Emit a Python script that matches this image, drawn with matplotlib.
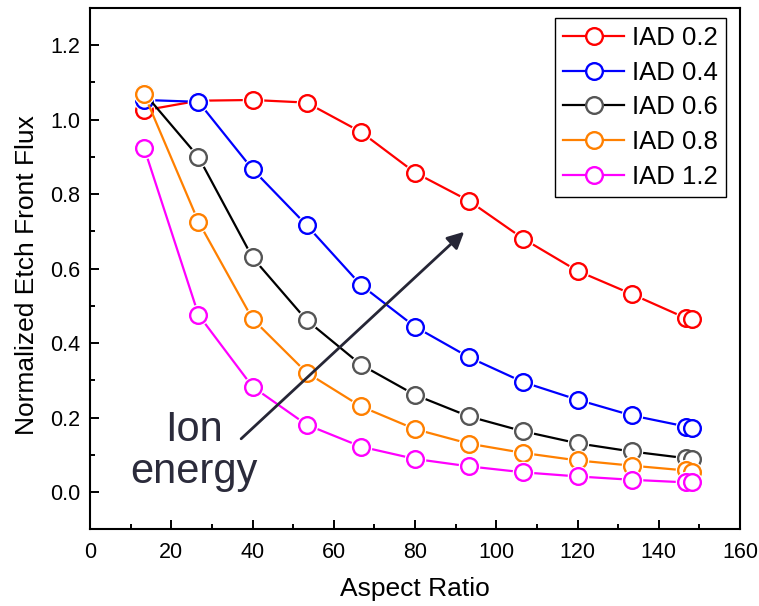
import matplotlib
matplotlib.use("Agg")
import matplotlib.pyplot as plt
from matplotlib.ticker import MultipleLocator

plt.rcParams['font.family'] = ['Liberation Sans', 'DejaVu Sans']

aspect_ratio = [13.3, 26.7, 40.0, 53.3, 66.7, 80.0, 93.3, 106.7, 120.0, 133.3, 146.7, 148.3]
iad_02 = [1.025, 1.051, 1.053, 1.046, 0.967, 0.858, 0.782, 0.680, 0.594, 0.532, 0.467, 0.465]
iad_04 = [1.053, 1.048, 0.867, 0.717, 0.556, 0.444, 0.362, 0.295, 0.248, 0.206, 0.176, 0.173]
iad_06 = [1.072, 0.900, 0.630, 0.462, 0.342, 0.261, 0.203, 0.163, 0.131, 0.109, 0.091, 0.090]
iad_08 = [1.069, 0.726, 0.465, 0.321, 0.230, 0.169, 0.130, 0.105, 0.085, 0.071, 0.058, 0.055]
iad_12 = [0.925, 0.476, 0.283, 0.181, 0.122, 0.089, 0.069, 0.053, 0.042, 0.033, 0.026, 0.026]

labels = ["IAD 0.2", "IAD 0.4", "IAD 0.6", "IAD 0.8", "IAD 1.2"]
series = [iad_02, iad_04, iad_06, iad_08, iad_12]
line_colors = ["#ff0000", "#0000ff", "#000000", "#ff8000", "#ff00ff"]
marker_colors = ["#ff0000", "#0000ff", "#555555", "#ff8000", "#ff00ff"]

fig = plt.figure(figsize=(7.59, 6.06), dpi=100)
ax = fig.add_axes([90/759, 1-529.3/606, 650/759, 521.3/606])

handles = []
for i, (vals, lab, lc, mc) in enumerate(zip(series, labels, line_colors, marker_colors)):
    z = 2 + i * 3
    ax.plot(aspect_ratio, vals, color=lc, lw=1.6, zorder=z)
    ax.plot(aspect_ratio, vals, ls='none', marker='o', ms=15.5, mfc='white', mec='white', mew=0, zorder=z + 1)
    ax.plot(aspect_ratio, vals, ls='none', marker='o', ms=12, mfc='white', mec=mc, mew=1.7, zorder=z + 2)
    h, = ax.plot([], [], color=lc, lw=1.6, marker='o', ms=12, mfc='white', mec=mc, mew=1.7)
    handles.append(h)

ax.set_xlim(0, 160)
ax.set_ylim(-0.1, 1.3)
ax.xaxis.set_major_locator(MultipleLocator(20))
ax.xaxis.set_minor_locator(MultipleLocator(10))
ax.yaxis.set_major_locator(MultipleLocator(0.2))
ax.yaxis.set_minor_locator(MultipleLocator(0.1))
ax.yaxis.set_major_formatter(matplotlib.ticker.FormatStrFormatter('%.1f'))
ax.tick_params(which='major', direction='in', length=6.5, width=1.4, labelsize=15.5)
ax.tick_params(which='minor', direction='in', length=3.6, width=1.4)
ax.tick_params(axis='x', which='both', pad=9)
ax.tick_params(axis='y', which='both', pad=7)
for s in ax.spines.values():
    s.set_linewidth(1.5)

ax.set_xlabel("Aspect Ratio", fontsize=19)
ax.set_ylabel("Normalized Etch Front Flux", fontsize=19)
ax.xaxis.set_label_coords(0.5, -0.092)
ax.yaxis.set_label_coords(-0.079, 0.487)

leg = ax.legend(handles, labels, loc='upper right', bbox_to_anchor=(725.7/759, 1-18/606),
                bbox_transform=fig.transFigure, borderaxespad=0, fontsize=18.5,
                handlelength=2.4, handletextpad=0.3, labelspacing=0.42, borderpad=0.3,
                fancybox=False, framealpha=1, edgecolor='black')
leg.get_frame().set_linewidth(1.0)

ax.annotate("", xy=(92.6, 0.704), xytext=(36.7, 0.138),
            arrowprops=dict(arrowstyle='-|>', color='#262636', lw=2.0, mutation_scale=25),
            zorder=30)
ax.text(25.5, 0.11, "Ion\nenergy", ha='center', va='center', fontsize=30,
        color='#2b2b3b', linespacing=1.05, zorder=30)

fig.savefig("out.png", dpi=100)
